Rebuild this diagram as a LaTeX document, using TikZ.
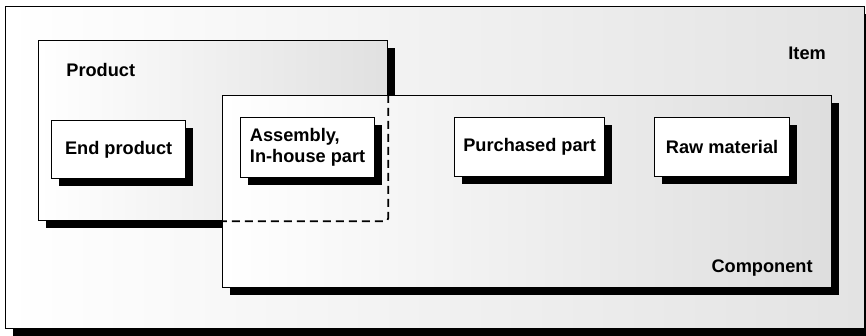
\documentclass[tikz,border=0pt]{standalone}
\usepackage{fontspec}
\setmainfont{Liberation Sans}
\usetikzlibrary{shadows,positioning}

\tikzset{
  blackshadow/.style={drop shadow={fill=black, opacity=1, shadow xshift=3.6pt, shadow yshift=-3.6pt}},
  area/.style={draw, line width=0.6pt, left color=white, right color=black!11,
    inner sep=0pt, anchor=north west, blackshadow},
  partbox/.style={draw, line width=0.6pt, fill=white, inner sep=0pt,
    anchor=north west, align=left, blackshadow},
  areatitle/.style={inner sep=0pt},
  hidden/.style={dashed, dash pattern=on 4pt off 2.5pt, line width=0.9pt, rounded corners=1.5pt}
}

\begin{document}
\begin{tikzpicture}[x=0.5pt, y=-0.5pt, font=\fontsize{9.1}{10.5}\selectfont\bfseries]
\useasboundingbox (0,0) rectangle (866,336);

% areas
\node[area, minimum width=429.5pt, minimum height=161pt] (item) at (5,6) {};
\node[area, right color=black!12, minimum width=174.5pt, minimum height=90pt] (product) at (38,40) {};
\node[area, right color=black!13, minimum width=304.5pt, minimum height=96pt] (component) at (222,95) {};
\draw[hidden] (component.north -| product.east) |- (component.west |- product.south);

\node[areatitle, anchor=west] (itemtitle) at (788,53) {Item};
\node[areatitle, anchor=west] (producttitle) at (66,70) {Product};
\node[areatitle, anchor=east] (componenttitle) at (813,268) {Component};

% parts
\node[partbox, minimum width=67pt, minimum height=29pt, align=center] (endproduct) at (51,120) {End product};
\node[partbox, minimum width=67pt, minimum height=30pt] (assembly) at (240,117) {Assembly,\\In-house part};
\node[partbox, minimum width=75pt, minimum height=29.5pt, align=center] (purchased) at (454,117) {Purchased part};
\node[partbox, minimum width=67.5pt, minimum height=29.5pt, align=center] (rawmaterial) at (654,117) {Raw material};
\end{tikzpicture}
\end{document}
